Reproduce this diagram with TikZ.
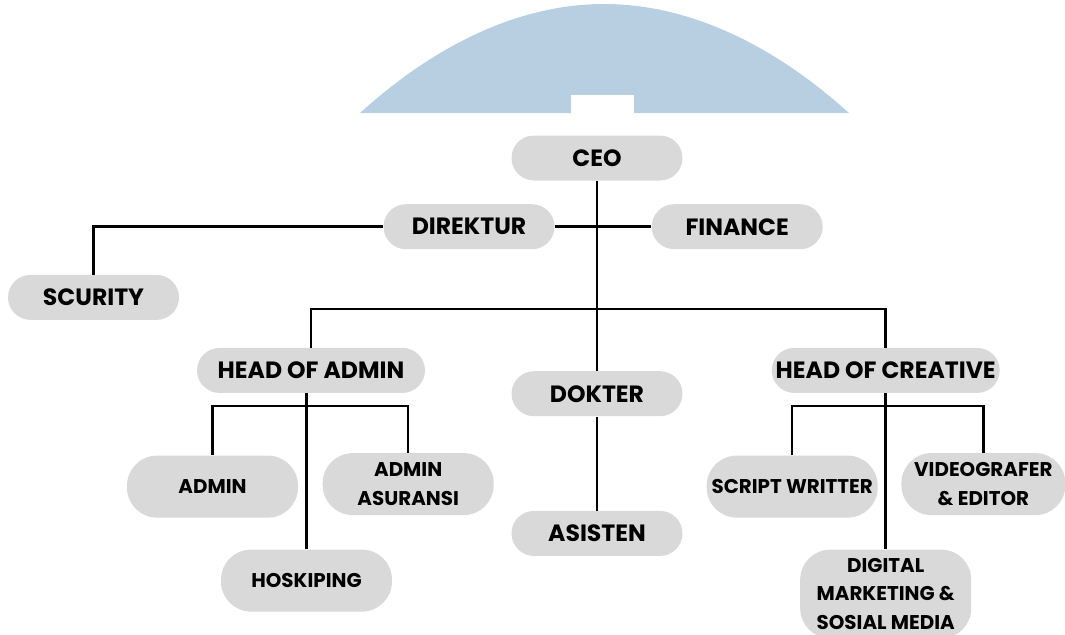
\documentclass[tikz,border=0pt]{standalone}
\usepackage{fontspec}
\setmainfont{Poppins}
\usetikzlibrary{positioning}

\definecolor{boxgray}{HTML}{D9D9D9}
\definecolor{logoblue}{HTML}{B8CFE2}

\begin{document}
\begin{tikzpicture}[
    node distance=1cm and 0.5cm,
    box/.style={
      rectangle,
      rounded corners=0.45cm,
      minimum height=0.9cm,
      minimum width=3.42cm,
      inner sep=2pt,
      fill=boxgray,
      align=center,
      font=\fontsize{13.4}{15}\selectfont\bfseries
    },
    subbox/.style={
      box,
      rounded corners=0.6cm,
      minimum height=1.24cm,
      font=\fontsize{11.3}{16.2}\selectfont\bfseries
    },
    line/.style={
      line width=1.4pt
    }
  ]

  % Page size
  \useasboundingbox (0,0) rectangle (21.3,-12.7);

  % Logo in background
  \fill[logoblue] (7.2,-2.26) parabola bend (12.08,-0.08) (16.98,-2.26) -- cycle;
  \fill[white] (11.42,-1.9) rectangle (12.68,-2.27);

  % Top levels
  \node[box] (ceo) at (11.94,-3.16) {CEO};
  \node[box, below=0.46cm of ceo, xshift=-2.56cm] (direktur) {DIREKTUR};
  \node[box, right=1.93cm of direktur] (finance) {FINANCE};
  \node[box, below=0.5cm of direktur, xshift=-7.51cm] (scurity) {SCURITY};

  % Heads - same row
  \node[box, minimum width=4.56cm, below=1.96cm of direktur, xshift=-3.16cm] (hadmin) {HEAD OF ADMIN};
  \node[box, minimum width=4.56cm, right=6.92cm of hadmin] (hcreative) {HEAD OF CREATIVE};
  \node[box, below=3.8cm of ceo] (dokter) {DOKTER};
  \node[box, below=1.88cm of dokter] (asisten) {ASISTEN};

  % Admin team
  \node[subbox, below=1.24cm of hadmin, xshift=-1.97cm] (admin) {ADMIN};
  \node[subbox, right=0.48cm of admin, yshift=0.05cm] (asuransi) {ADMIN\\ASURANSI};
  \node[subbox, below=3.12cm of hadmin, xshift=-0.09cm] (hoskiping) {HOSKIPING};

  % Creative team
  \node[subbox, below=1.24cm of hcreative, xshift=-1.87cm] (script) {SCRIPT WRITTER};
  \node[subbox, minimum width=3.28cm, right=0.46cm of script, yshift=0.05cm] (video) {VIDEOGRAFER\\\& EDITOR};
  \node[subbox, inner sep=5pt, below=3.12cm of hcreative] (digital) {DIGITAL\\MARKETING \&\\SOSIAL MEDIA};

  % Lines
  \coordinate[below=2.56cm of ceo.south] (bar);
  \draw[line] (ceo) -- (dokter); % CEO line runs down to Dokter
  \draw[line] (direktur) -- (finance);
  \draw[line] (direktur.west) -| (scurity.north);
  \draw[line] (hadmin.north) |- (bar) -| (hcreative.north);
  \draw[line] (dokter) -- (asisten);

  \draw[line] (admin.north) |- ([yshift=-0.26cm]hadmin.south) -| (asuransi.north);
  \draw[line] (hoskiping.north |- hadmin.south) -- (hoskiping);
  \draw[line] (script.north) |- ([yshift=-0.26cm]hcreative.south) -| (video.north);
  \draw[line] (hcreative) -- (digital);

\end{tikzpicture}
\end{document}
